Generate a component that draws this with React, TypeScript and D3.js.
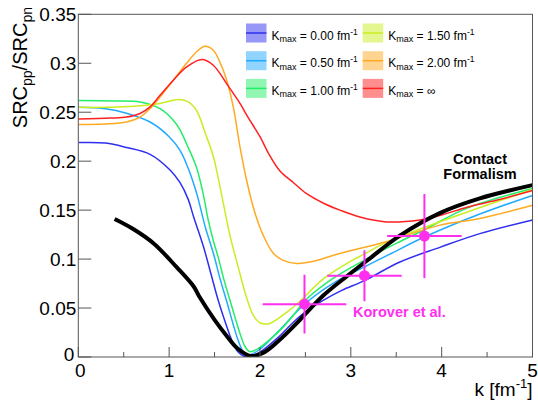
import React from "react";
import * as d3 from "d3";

const W = 538;
const H = 402;

const xTicks = [0, 1, 2, 3, 4, 5];
const xMinorTicks = [0.5, 1.5, 2.5, 3.5, 4.5];
const yTicks = [0, 0.05, 0.1, 0.15, 0.2, 0.25, 0.3, 0.35];
const yTickLabels = ["0", "0.05", "0.1", "0.15", "0.2", "0.25", "0.3", "0.35"];

const legendValues = ["0.00", "0.50", "1.00", "1.50", "2.00", "∞"];
const seriesColors = ["#2f2ff0", "#22aaff", "#22ee66", "#c8ee22", "#ffaa22", "#ff2020"];

const kmax0: [number, number][] = [
  [0, 0.219], [0.3, 0.2185], [0.53, 0.214], [0.79, 0.207], [1.01, 0.191], [1.12, 0.178],
  [1.21, 0.161], [1.27, 0.143], [1.38, 0.112], [1.46, 0.085], [1.54, 0.058], [1.62, 0.035],
  [1.69, 0.017], [1.76, 0.005], [1.82, 0.001], [1.9, 0.001], [2.0, 0.005], [2.2, 0.02],
  [2.35, 0.034], [2.5, 0.046], [2.7, 0.058], [2.9, 0.068], [3.15, 0.078], [3.54, 0.097],
  [3.98, 0.112], [4.42, 0.126], [5, 0.14],
];
const kmax05: [number, number][] = [
  [0, 0.255], [0.3, 0.2535], [0.53, 0.249], [0.79, 0.24], [1.0, 0.225], [1.12, 0.211],
  [1.2, 0.195], [1.3, 0.168], [1.4, 0.132], [1.49, 0.105], [1.56, 0.08], [1.63, 0.058],
  [1.7, 0.035], [1.76, 0.017], [1.82, 0.005], [1.88, 0.002], [2.0, 0.008], [2.2, 0.026],
  [2.49, 0.054], [2.8, 0.075], [3.15, 0.092], [3.45, 0.106], [3.81, 0.1225], [4.42, 0.146],
  [5, 0.165],
];
const kmax10: [number, number][] = [
  [0, 0.262], [0.4, 0.2615], [0.68, 0.2605], [0.9, 0.2537], [1.046, 0.2418], [1.12, 0.232],
  [1.19, 0.218], [1.3, 0.194], [1.376, 0.166], [1.43, 0.14], [1.486, 0.119], [1.54, 0.102],
  [1.6, 0.08], [1.67, 0.058], [1.78, 0.024], [1.84, 0.01], [1.89, 0.0055], [1.97, 0.008],
  [2.11, 0.018], [2.25, 0.03], [2.37, 0.043], [2.5, 0.058], [2.8, 0.08], [3.15, 0.099],
  [3.5, 0.116], [3.81, 0.13], [4.28, 0.152], [5, 0.172],
];
const kmax15: [number, number][] = [
  [0, 0.255], [0.5, 0.2555], [0.9, 0.259], [1.1, 0.263], [1.2, 0.261], [1.3, 0.252],
  [1.4, 0.228], [1.486, 0.205], [1.59, 0.16], [1.67, 0.124], [1.76, 0.092], [1.85, 0.0615],
  [1.93, 0.042], [2.0, 0.035], [2.1, 0.034], [2.18, 0.038], [2.3, 0.046], [2.44, 0.057],
  [2.7, 0.08], [3.0, 0.098], [3.146, 0.105], [3.39, 0.117], [3.8, 0.132], [4.4, 0.152],
  [5, 0.171],
];
const kmax20: [number, number][] = [
  [0, 0.2375], [0.3, 0.238], [0.53, 0.24], [0.68, 0.245], [0.79, 0.2537], [0.9, 0.2656],
  [1.046, 0.2827], [1.19, 0.2997], [1.3, 0.3115], [1.395, 0.3173], [1.486, 0.3133],
  [1.55, 0.303], [1.634, 0.2827], [1.706, 0.2554], [1.78, 0.2146], [1.854, 0.18],
  [1.945, 0.147], [2.037, 0.124], [2.146, 0.106], [2.25, 0.099], [2.4, 0.0956],
  [2.55, 0.097], [2.88, 0.1058], [3.39, 0.1177], [3.98, 0.1347], [4.42, 0.1415], [5, 0.155],
];
const kmaxInf: [number, number][] = [
  [0, 0.243], [0.35, 0.244], [0.53, 0.245], [0.68, 0.2487], [0.79, 0.2554], [0.9, 0.2673],
  [1.046, 0.2827], [1.19, 0.296], [1.36, 0.3038], [1.486, 0.298], [1.634, 0.279],
  [1.78, 0.259], [1.854, 0.247], [2.0, 0.225], [2.1, 0.207], [2.22, 0.19], [2.37, 0.178],
  [2.51, 0.167], [2.7, 0.157], [2.88, 0.15], [3.1, 0.143], [3.39, 0.138], [3.76, 0.14],
  [4.0, 0.145], [4.28, 0.153], [4.6, 0.16], [5, 0.17],
];
const contact: [number, number][] = [
  [0.4, 0.141], [0.6, 0.131], [0.83, 0.116], [1.08, 0.092], [1.27, 0.072], [1.33, 0.062],
  [1.5, 0.038], [1.63, 0.022], [1.75, 0.009], [1.9, 0.001], [2.05, 0.005], [2.2, 0.016],
  [2.4, 0.034], [2.5, 0.044], [2.7, 0.063], [2.95, 0.082], [3.2, 0.1], [3.54, 0.124],
  [3.98, 0.147], [4.42, 0.162], [5, 0.1755],
];

const series = [kmax0, kmax05, kmax10, kmax15, kmax20, kmaxInf];

const korX = [2.49, 3.15, 3.81];
const korY = [0.054, 0.083, 0.1235];
const korXErr = [0.46, 0.41, 0.41];
const korYErr = [0.03, 0.026, 0.043];

const FONT = "'Liberation Sans', Arial, Helvetica, sans-serif";
const MAGENTA = "#ff2fee";

export default function App() {
  const left = 78.3, right = 532.5, top = 14.3, bottom = 357;
  const x = d3.scaleLinear().domain([0, 5]).range([left, right]);
  const y = d3.scaleLinear().domain([0, 0.35]).range([bottom, top]);
  const line = d3
    .line<[number, number]>()
    .x((d) => x(d[0]))
    .y((d) => y(d[1]))
    .curve(d3.curveCatmullRom.alpha(0.5));

  const legendCols = [246, 362.7];
  const legendRows = [33, 60.7, 88.4];

  return (
    <svg
      width={W}
      height={H}
      style={{ position: "absolute", left: 0, top: 0, background: "#fff" }}
      fontFamily={FONT}
    >
      <rect x={0} y={0} width={W} height={H} fill="#fff" />
      <defs>
        <clipPath id="plotclip">
          <rect x={left} y={top} width={right - left} height={bottom - top} />
        </clipPath>
      </defs>

      {/* curves */}
      <g clipPath="url(#plotclip)">
        {series.map((s, i) => (
          <path key={i} d={line(s) || ""} fill="none" stroke={seriesColors[i]} strokeWidth={1.5} />
        ))}
        <path d={line(contact) || ""} fill="none" stroke="#000" strokeWidth={4} strokeLinejoin="round" />
      </g>

      {/* data points */}
      <g stroke={MAGENTA} strokeWidth={2}>
        {korX.map((kx, i) => (
          <g key={i}>
            <line x1={x(kx - korXErr[i])} x2={x(kx + korXErr[i])} y1={y(korY[i])} y2={y(korY[i])} />
            <line x1={x(kx)} x2={x(kx)} y1={y(korY[i] - korYErr[i])} y2={y(korY[i] + korYErr[i])} />
            <circle cx={x(kx)} cy={y(korY[i])} r={5.5} fill={MAGENTA} stroke="none" />
          </g>
        ))}
      </g>

      {/* frame */}
      <rect x={left} y={top} width={right - left} height={bottom - top} fill="none" stroke="#555" strokeWidth={1} />

      {/* x ticks */}
      {xTicks.map((t) => (
        <line key={"xt" + t} x1={x(t)} x2={x(t)} y1={bottom} y2={bottom - 10} stroke="#555" />
      ))}
      {xMinorTicks.map((t) => (
        <line key={"xm" + t} x1={x(t)} x2={x(t)} y1={bottom} y2={bottom - 5} stroke="#555" />
      ))}
      {xTicks.map((t) => (
        <text key={"xl" + t} x={x(t) + (t === 0 ? 2 : 0)} y={bottom + 20} fontSize={19} textAnchor="middle" fill="#000">
          {t}
        </text>
      ))}

      {/* y ticks */}
      {yTicks.map((t, i) => (
        <g key={"yt" + i}>
          <line x1={left} x2={left + 13} y1={y(t)} y2={y(t)} stroke="#555" />
          <text x={left - (t === 0 ? 4 : 2)} y={y(t) + (t === 0 ? 4 : 6.8)} fontSize={19} textAnchor="end" fill="#000">
            {yTickLabels[i]}
          </text>
        </g>
      ))}

      {/* axis titles */}
      <text x={right} y={396} fontSize={19} textAnchor="end" fill="#000">
        k [fm
        <tspan fontSize={13} dy={-8}>-1</tspan>
        <tspan dy={8}>]</tspan>
      </text>
      <text transform="translate(27,7) rotate(-90)" fontSize={20} textAnchor="end" fill="#000">
        SRC
        <tspan fontSize={14} dy={5}>pp</tspan>
        <tspan dy={-5}>/SRC</tspan>
        <tspan fontSize={14} dy={5}>pn</tspan>
      </text>

      {/* legend */}
      {legendValues.map((v, i) => {
        const col = Math.floor(i / 3);
        const row = i % 3;
        const bx = legendCols[col];
        const cy = legendRows[row];
        return (
          <g key={"lg" + i}>
            <rect x={bx} y={cy - 9.5} width={20.5} height={19} fill={seriesColors[i]} fillOpacity={0.5} />
            <line x1={bx} x2={bx + 20.5} y1={cy} y2={cy} stroke={seriesColors[i]} strokeWidth={1.5} />
            <text x={bx + 25.5} y={cy + 6.5} fontSize={12} fill="#000">
              K
              <tspan fontSize={9} dy={2.5}>max</tspan>
              <tspan dy={-2.5}>{" = " + v}</tspan>
              {v !== "∞" ? (
                <>
                  <tspan>{" fm"}</tspan>
                  <tspan fontSize={8.5} dy={-5}>-1</tspan>
                </>
              ) : null}
            </text>
          </g>
        );
      })}

      {/* annotations */}
      <text x={480} y={163.5} fontSize={14.5} fontWeight="bold" textAnchor="middle" fill="#000">
        Contact
      </text>
      <text x={480} y={178.5} fontSize={14.5} fontWeight="bold" textAnchor="middle" fill="#000">
        Formalism
      </text>
      <text x={353} y={316.7} fontSize={14.5} fontWeight="bold" fill={MAGENTA}>
        Korover et al.
      </text>
    </svg>
  );
}
